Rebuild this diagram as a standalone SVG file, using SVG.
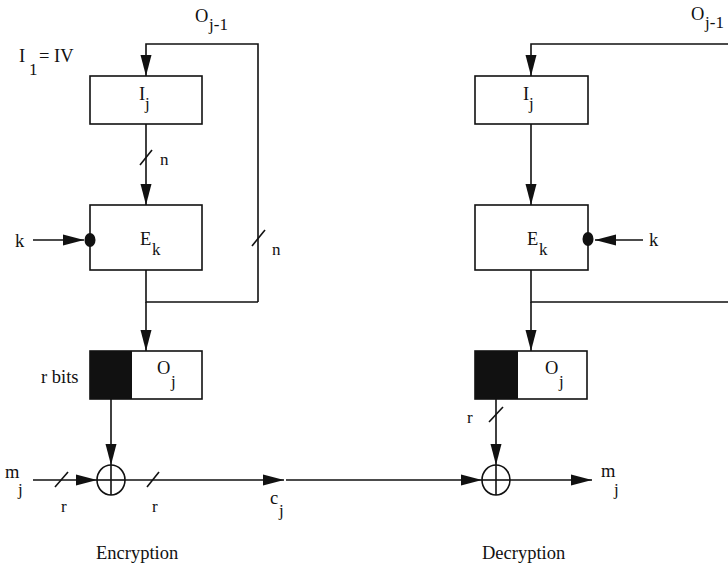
<svg xmlns="http://www.w3.org/2000/svg" width="728" height="570" viewBox="0 0 728 570">
<defs>
<marker id="ah" markerWidth="22" markerHeight="12" refX="21" refY="6" orient="auto" markerUnits="userSpaceOnUse">
<path d="M0,0.5 L21,6 L0,11.5 Z" fill="#111"/>
</marker>
<style>
.ln{stroke:#111;stroke-width:1.6;fill:none}
.bx{stroke:#111;stroke-width:1.6;fill:#fff}
.t{font-family:"Liberation Serif","Times New Roman",serif;font-size:18.5px;fill:#111}
.s{font-family:"Liberation Serif","Times New Roman",serif;font-size:17px;fill:#111}
</style>
</defs>
<rect width="728" height="570" fill="#fff"/>

<g id="connectors">
<polyline class="ln" points="258,302 258,44 146,44 146,76" marker-end="url(#ah)"/>
<line class="ln" x1="146" y1="124" x2="146" y2="205" marker-end="url(#ah)"/>
<line class="ln" x1="140" y1="165" x2="152" y2="150"/>
<line class="ln" x1="252" y1="246" x2="265" y2="230"/>
<line class="ln" x1="33" y1="240" x2="84" y2="240" marker-end="url(#ah)"/>
<polyline class="ln" points="146,270 146,302 258,302"/>
<line class="ln" x1="146" y1="302" x2="146" y2="351" marker-end="url(#ah)"/>
<line class="ln" x1="111" y1="399" x2="111" y2="465" marker-end="url(#ah)"/>
<line class="ln" x1="33" y1="480" x2="97" y2="480" marker-end="url(#ah)"/>
<line class="ln" x1="55" y1="487" x2="68" y2="472"/>
<line class="ln" x1="125" y1="480" x2="284" y2="480" marker-end="url(#ah)"/>
<line class="ln" x1="147" y1="487" x2="159" y2="472"/>
<line class="ln" x1="286" y1="480" x2="482" y2="480" marker-end="url(#ah)"/>
<polyline class="ln" points="728,44 531,44 531,76" marker-end="url(#ah)"/>
<line class="ln" x1="531" y1="124" x2="531" y2="205" marker-end="url(#ah)"/>
<line class="ln" x1="643" y1="240" x2="595" y2="240" marker-end="url(#ah)"/>
<polyline class="ln" points="531,270 531,302 728,302"/>
<line class="ln" x1="531" y1="302" x2="531" y2="351" marker-end="url(#ah)"/>
<line class="ln" x1="496" y1="399" x2="496" y2="465" marker-end="url(#ah)"/>
<line class="ln" x1="489" y1="422" x2="503" y2="407"/>
<line class="ln" x1="510" y1="480" x2="592" y2="480" marker-end="url(#ah)"/>
</g>

<g id="enc-I">
<rect class="bx" x="90" y="76" width="112" height="48"/>
<text class="t" x="139" y="100">I</text><text class="s" x="145" y="109">j</text>
</g>
<g id="enc-E">
<rect class="bx" x="90" y="205" width="112" height="65"/>
<text class="t" x="140" y="245">E</text><text class="s" x="152" y="255">k</text>
<ellipse cx="90" cy="240" rx="5.5" ry="7" fill="#111"/>
</g>
<g id="enc-O">
<rect class="bx" x="90" y="351" width="112" height="48"/>
<rect x="90" y="351" width="42" height="48" fill="#111"/>
<text class="t" x="157" y="374">O</text><text class="s" x="171" y="387">j</text>
</g>
<g id="enc-xor">
<ellipse class="bx" cx="111" cy="480" rx="14" ry="15"/>
<line class="ln" x1="97" y1="480" x2="125" y2="480"/>
<line class="ln" x1="111" y1="465" x2="111" y2="495"/>
</g>

<g id="dec-I">
<rect class="bx" x="475" y="76" width="113" height="48"/>
<text class="t" x="523" y="100">I</text><text class="s" x="529" y="109">j</text>
</g>
<g id="dec-E">
<rect class="bx" x="475" y="205" width="113" height="65"/>
<text class="t" x="527" y="245">E</text><text class="s" x="539" y="255">k</text>
<ellipse cx="588" cy="239" rx="5.5" ry="7" fill="#111"/>
</g>
<g id="dec-O">
<rect class="bx" x="475" y="351" width="112" height="48"/>
<rect x="475" y="351" width="43" height="48" fill="#111"/>
<text class="t" x="545" y="374">O</text><text class="s" x="559" y="387">j</text>
</g>
<g id="dec-xor">
<ellipse class="bx" cx="496" cy="480" rx="14" ry="15"/>
<line class="ln" x1="482" y1="480" x2="510" y2="480"/>
<line class="ln" x1="496" y1="465" x2="496" y2="495"/>
</g>

<g id="labels">
<text class="t" x="195" y="22">O</text><text class="s" x="209" y="30">j-1</text>
<text class="t" x="19" y="62">I</text><text class="s" x="29" y="75">1</text><text class="t" x="39" y="62">= IV</text>
<text class="s" x="160" y="165">n</text>
<text class="t" x="15" y="247">k</text>
<text class="s" x="272" y="255">n</text>
<text class="t" x="41" y="383">r bits</text>
<text class="t" x="5" y="478">m</text><text class="s" x="18" y="495">j</text>
<text class="s" x="61" y="512">r</text>
<text class="s" x="152" y="512">r</text>
<text class="t" x="270" y="504">c</text><text class="s" x="279" y="516">j</text>
<text class="t" x="96" y="559">Encryption</text>

<text class="t" x="691" y="20">O</text><text class="s" x="705" y="28">j-1</text>
<text class="t" x="649" y="246">k</text>
<text class="s" x="467" y="423">r</text>
<text class="t" x="601" y="477">m</text><text class="s" x="614" y="495">j</text>
<text class="t" x="482" y="559">Decryption</text>
</g>
</svg>
